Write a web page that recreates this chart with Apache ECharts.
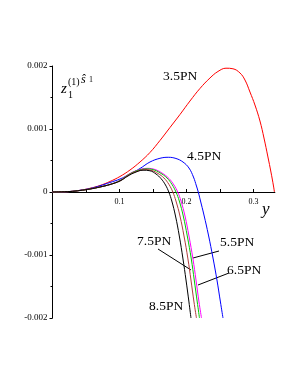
<!DOCTYPE html>
<html><head><meta charset="utf-8">
<script src="https://cdn.jsdelivr.net/npm/echarts@6/dist/echarts.min.js"></script>
<style>html,body{margin:0;padding:0;background:#fff}#c{width:298px;height:385px}</style>
</head><body><div id="c"></div>
<script>
// Data: [y, z] pairs
const pn35 = [[0,0],[0.0261,0.0000079],[0.041,0.000027],[0.056,0.0000587],[0.0709,0.000103],[0.0858,0.000167],[0.1007,0.000246],[0.1157,0.000349],[0.1306,0.000476],[0.1455,0.000627],[0.1604,0.000817],[0.1754,0.001024],[0.1903,0.00123],[0.2052,0.001444],[0.2201,0.001643],[0.2351,0.00181],[0.247,0.001913],[0.259,0.001965],[0.2694,0.001956],[0.2799,0.001889],[0.2873,0.001778],[0.2948,0.001587],[0.3022,0.001381],[0.3097,0.001127],[0.3157,0.000857],[0.3216,0.000556],[0.3261,0.000317],[0.3299,0.0000952],[0.3313,0]];
const pn45 = [[0,0],[0.0261,0.0000079],[0.041,0.000027],[0.056,0.0000556],[0.0709,0.0000984],[0.0858,0.000151],[0.1007,0.000206],[0.1157,0.000286],[0.1306,0.000373],[0.1455,0.000476],[0.1604,0.000535],[0.1728,0.000551],[0.1843,0.000532],[0.1948,0.000476],[0.2037,0.000381],[0.2104,0.000238],[0.2149,0.0000952],[0.2176,0],[0.2206,-0.000127],[0.2261,-0.000365],[0.2328,-0.000683],[0.2396,-0.001048],[0.2455,-0.001397],[0.2507,-0.001746],[0.2545,-0.002]];
const pn55 = [[0,0],[0.0261,0.0000079],[0.041,0.0000238],[0.056,0.0000476],[0.0709,0.0000794],[0.0858,0.000119],[0.1007,0.0001857],[0.1127,0.000275],[0.1246,0.000337],[0.1418,0.000376],[0.153,0.000357],[0.1634,0.000302],[0.1739,0.000214],[0.1813,0.000111],[0.1869,0],[0.1918,-0.000143],[0.1978,-0.000381],[0.2037,-0.000698],[0.2097,-0.001063],[0.2142,-0.001397],[0.2187,-0.001746],[0.2224,-0.002]];
const pn65 = [[0,0],[0.0261,0.0000079],[0.041,0.0000238],[0.056,0.0000476],[0.0709,0.0000794],[0.0858,0.000119],[0.1007,0.0001825],[0.1127,0.00027],[0.1246,0.000333],[0.141,0.000368],[0.15,0.000356],[0.1604,0.000305],[0.1709,0.000222],[0.1784,0.000119],[0.1843,0],[0.1893,-0.000143],[0.1952,-0.000381],[0.2012,-0.000698],[0.2072,-0.001063],[0.2116,-0.001397],[0.2161,-0.001746],[0.2194,-0.002]];
const pn75 = [[0,0],[0.0261,0.0000079],[0.041,0.0000238],[0.056,0.0000476],[0.0709,0.0000794],[0.0858,0.000119],[0.1007,0.0001746],[0.1127,0.000262],[0.1231,0.000317],[0.1396,0.000356],[0.1485,0.000341],[0.1575,0.000294],[0.1664,0.000222],[0.1739,0.000119],[0.1796,0],[0.1843,-0.000143],[0.1903,-0.000381],[0.1963,-0.000698],[0.2022,-0.001063],[0.2067,-0.001397],[0.2112,-0.001746],[0.2149,-0.002]];
const pn85 = [[0,0],[0.0261,0.0000079],[0.041,0.0000238],[0.056,0.0000476],[0.0709,0.0000794],[0.0858,0.000119],[0.1007,0.0001746],[0.1127,0.000254],[0.1231,0.00031],[0.1351,0.000346],[0.1455,0.000337],[0.1545,0.000286],[0.1619,0.000214],[0.1687,0.000111],[0.1736,0],[0.1781,-0.000143],[0.1836,-0.000381],[0.1893,-0.000698],[0.1948,-0.001063],[0.1993,-0.001397],[0.2037,-0.001746],[0.2067,-0.002]];
const xLabelValues = [0.1, 0.2, 0.3];
const xTickValues = [0.05, 0.1, 0.15, 0.2, 0.25, 0.3];
const seriesNames = ['3.5PN','4.5PN','5.5PN','6.5PN','7.5PN','8.5PN'];

const serif = '"Liberation Serif","DejaVu Serif",serif';
const colors = ['#ff0000','#0000ff','#ff00ff','#00cc00','#b03c3c','#000000'];
const datas = [pn35, pn45, pn55, pn65, pn75, pn85];

const chart = echarts.init(document.getElementById('c'), null, {renderer:'canvas'});
chart.setOption({
  animation:false,
  backgroundColor:'#fff',
  grid:{left:52.5, top:66, width:222.4, height:252, containLabel:false},
  xAxis:{type:'value', min:0, max:0.332, position:'bottom', offset:-126,
    axisLine:{onZero:false, lineStyle:{color:'#000', width:1}},
    axisTick:{show:true, inside:true, length:3, customValues:xTickValues, lineStyle:{color:'#000'}},
    axisLabel:{customValues:xLabelValues, fontFamily:serif, fontSize:8, color:'#000', margin:6},
    splitLine:{show:false}},
  yAxis:{type:'value', min:-0.002, max:0.002, interval:0.001,
    axisLine:{show:true, onZero:false, lineStyle:{color:'#000', width:1}},
    axisTick:{show:true, length:3, lineStyle:{color:'#000'}},
    minorTick:{show:true, splitNumber:2, length:2, lineStyle:{color:'#000'}},
    axisLabel:{fontFamily:serif, fontSize:9, color:'#000', margin:5},
    splitLine:{show:false}},
  series: datas.map((d,i)=>({name:seriesNames[i], type:'line', data:d, smooth:0.4, symbol:'none',
    lineStyle:{color:colors[i], width:1}, clip:false})),
  graphic:[
    {type:'text', left:61, top:82, style:{text:'z', font:'italic 15px '+serif, fill:'#000'}},
    {type:'text', left:68, top:90, style:{text:'1', font:'10px '+serif, fill:'#000'}},
    {type:'text', left:68, top:77, style:{text:'(1)', font:'10px '+serif, fill:'#000'}},
    {type:'text', left:81, top:74, style:{text:'ŝ', font:'italic 12px '+serif, fill:'#000'}},
    {type:'text', left:89, top:76, style:{text:'1', font:'8px '+serif, fill:'#000'}},
    {type:'text', left:262, top:201, style:{text:'y', font:'italic 17px '+serif, fill:'#000'}},
    {type:'text', left:163, top:69, style:{text:seriesNames[0], font:'13.5px '+serif, fill:'#000'}},
    {type:'text', left:187, top:149, style:{text:seriesNames[1], font:'13.5px '+serif, fill:'#000'}},
    {type:'text', left:220, top:235, style:{text:seriesNames[2], font:'13.5px '+serif, fill:'#000'}},
    {type:'text', left:227, top:263, style:{text:seriesNames[3], font:'13.5px '+serif, fill:'#000'}},
    {type:'text', left:137, top:234, style:{text:seriesNames[4], font:'13.5px '+serif, fill:'#000'}},
    {type:'text', left:149, top:299, style:{text:seriesNames[5], font:'13.5px '+serif, fill:'#000'}},
    {type:'line', shape:{x1:158,y1:249,x2:191,y2:270}, style:{stroke:'#000', lineWidth:1}},
    {type:'line', shape:{x1:219,y1:251,x2:193,y2:258}, style:{stroke:'#000', lineWidth:1}},
    {type:'line', shape:{x1:229,y1:273,x2:198,y2:285}, style:{stroke:'#000', lineWidth:1}}
  ]
});
</script></body></html>
